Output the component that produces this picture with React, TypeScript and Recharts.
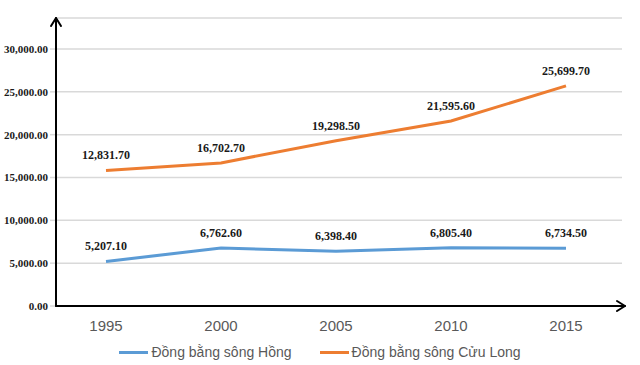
import React from "react";
import {
  LineChart,
  Line,
  XAxis,
  YAxis,
  CartesianGrid,
  Legend,
  LabelList,
} from "recharts";

const years = ["1995", "2000", "2005", "2010", "2015"];
const hongValues = [5207.1, 6762.6, 6398.4, 6805.4, 6734.5];
const cuuLongValues = [15831.7, 16702.7, 19298.5, 21595.6, 25699.7];
// labels as printed on the source chart
const hongLabels = ["5,207.10", "6,762.60", "6,398.40", "6,805.40", "6,734.50"];
const cuuLongLabels = ["12,831.70", "16,702.70", "19,298.50", "21,595.60", "25,699.70"];
const yTicks = [0, 5000, 10000, 15000, 20000, 25000, 30000];

const HONG = "Đồng bằng sông Hồng";
const CUU_LONG = "Đồng bằng sông Cửu Long";
const BLUE = "#5B9BD5";
const ORANGE = "#ED7D31";

const W = 640;
const H = 365;
const LEFT = 56;
const TOP = 18;
const RIGHT = 622;
const BOTTOM = 306;

const data = years.map((year, i) => ({
  year,
  hong: hongValues[i],
  cuuLong: cuuLongValues[i],
  hongLabel: hongLabels[i],
  cuuLongLabel: cuuLongLabels[i],
}));

const fmtTick = (v: number) =>
  v.toLocaleString("en-US", { minimumFractionDigits: 2, maximumFractionDigits: 2 });

const makeLabel = (labels: string[]) => (props: any) => {
  const { x, y, index } = props;
  return (
    <text
      x={x}
      y={y - 11}
      textAnchor="middle"
      fontFamily="'Liberation Serif', 'Times New Roman', serif"
      fontWeight="bold"
      fontSize={12}
      fill="#1a1a1a"
    >
      {labels[index]}
    </text>
  );
};

const LegendContent = () => (
  <div
    style={{
      display: "flex",
      justifyContent: "center",
      alignItems: "center",
      fontFamily: "'Liberation Sans', Arial, sans-serif",
      fontSize: 14,
      color: "#595959",
      gap: 28,
    }}
  >
    {[
      { name: HONG, color: BLUE },
      { name: CUU_LONG, color: ORANGE },
    ].map((item) => (
      <div key={item.name} style={{ display: "flex", alignItems: "center" }}>
        <span
          style={{
            display: "inline-block",
            width: 29,
            height: 3,
            background: item.color,
            marginRight: 3,
          }}
        />
        <span>{item.name}</span>
      </div>
    ))}
  </div>
);

export default function App() {
  return (
    <div style={{ position: "absolute", left: 0, top: 0, width: W, height: H, background: "#fff" }}>
      <LineChart
        width={W}
        height={H}
        data={data}
        margin={{ top: TOP, right: W - RIGHT, left: 0, bottom: 3 }}
      >
        <CartesianGrid vertical={false} stroke="#d9d9d9" strokeWidth={1.5} />
        <XAxis
          dataKey="year"
          axisLine={false}
          tickLine={false}
          padding={{ left: 50, right: 56 }}
          height={36}
          tickMargin={8}
          tick={{ fill: "#595959", fontSize: 15, fontFamily: "'Liberation Sans', Arial, sans-serif" }}
        />
        <YAxis
          width={LEFT}
          domain={[0, 33620]}
          ticks={yTicks}
          tickFormatter={fmtTick}
          axisLine={false}
          tickLine={{ stroke: "#d9d9d9", strokeWidth: 1.5 }}
          tickSize={6}
          tickMargin={2}
          interval={0}
          tick={{
            fill: "#1a1a1a",
            fontSize: 11,
            fontWeight: "bold",
            fontFamily: "'Liberation Serif', 'Times New Roman', serif",
          }}
        />
        <Legend
          verticalAlign="bottom"
          content={<LegendContent />}
          wrapperStyle={{ left: 0, width: W, height: 20, bottom: 1 }}
        />
        <Line
          type="linear"
          dataKey="hong"
          name={HONG}
          stroke={BLUE}
          strokeWidth={3}
          dot={false}
          isAnimationActive={false}
        >
          <LabelList dataKey="hongLabel" content={makeLabel(hongLabels)} />
        </Line>
        <Line
          type="linear"
          dataKey="cuuLong"
          name={CUU_LONG}
          stroke={ORANGE}
          strokeWidth={3}
          dot={false}
          isAnimationActive={false}
        >
          <LabelList dataKey="cuuLongLabel" content={makeLabel(cuuLongLabels)} />
        </Line>
      </LineChart>
      {/* axis lines with arrow heads */}
      <svg
        width={W}
        height={H}
        style={{ position: "absolute", left: 0, top: 0, pointerEvents: "none" }}
      >
        <g stroke="#000" strokeWidth={2} fill="none" strokeLinecap="round" strokeLinejoin="round">
          <line x1={LEFT} y1={BOTTOM} x2={LEFT} y2={TOP} />
          <polyline points={`${LEFT - 5},${TOP + 8} ${LEFT},${TOP} ${LEFT + 5},${TOP + 8}`} />
          <line x1={LEFT} y1={BOTTOM} x2={RIGHT + 3} y2={BOTTOM} />
          <polyline points={`${RIGHT - 5},${BOTTOM - 5} ${RIGHT + 3},${BOTTOM} ${RIGHT - 5},${BOTTOM + 5}`} />
        </g>
      </svg>
    </div>
  );
}
